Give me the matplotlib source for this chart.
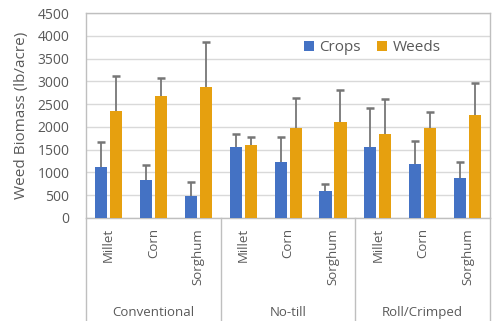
import numpy as np
import matplotlib.pyplot as plt

plt.rcParams["font.family"] = ["Open Sans", "DejaVu Sans"]

systems = ["Conventional", "No-till", "Roll/Crimped"]
crops_names = ["Millet", "Corn", "Sorghum"]

# mean biomass and upper error (lb/acre), 9 bars per series
crops_mean = [1120, 830, 480, 1560, 1230, 590, 1560, 1180, 880]
crops_err = [550, 330, 310, 280, 550, 150, 850, 510, 350]
weeds_mean = [2350, 2680, 2870, 1600, 1970, 2100, 1840, 1970, 2260]
weeds_err = [760, 390, 990, 180, 660, 710, 770, 360, 700]

blue = "#4472C4"
orange = "#E6A00F"
txt = "#595959"
grey_line = "#D9D9D9"

fig = plt.figure(figsize=(4.92, 3.21), dpi=100)
ax = fig.add_axes([0.175, 0.321, 0.821, 0.638])

x = np.arange(len(crops_mean))
w = 0.27
off = 0.167
ax.bar(x - off, crops_mean, w, color=blue, label="Crops", zorder=3)
ax.bar(x + off, weeds_mean, w, color=orange, label="Weeds", zorder=3)
# symmetric bars drawn behind the columns, so only the upper half shows
ax.errorbar(x - off, crops_mean, yerr=crops_err, fmt="none",
            ecolor="#767676", elinewidth=1.3, capsize=3.2, capthick=1.8, zorder=2)
ax.errorbar(x + off, weeds_mean, yerr=weeds_err, fmt="none",
            ecolor="#767676", elinewidth=1.3, capsize=3.2, capthick=1.8, zorder=2)

ax.set_xlim(-0.5, 8.5)
ax.set_ylim(0, 4500)
ax.set_yticks(np.arange(0, 4501, 500))
ax.yaxis.grid(True, color=grey_line, linewidth=1, zorder=0)
ax.tick_params(axis="y", length=0, labelsize=10, labelcolor=txt, pad=12)
ax.set_xticks([])
for s in ax.spines.values():
    s.set_color("#BFBFBF")
    s.set_linewidth(1)

ax.set_ylabel("Weed Biomass (lb/acre)", fontsize=11, color=txt, labelpad=6)

# category labels under the axis
tr = ax.get_xaxis_transform()
for i in range(9):
    ax.text(i, -0.05, crops_names[i % 3], transform=tr, rotation=90,
            ha="center", va="top", fontsize=9.5, color=txt)
for g, name in enumerate(systems):
    ax.text(g * 3 + 1, -0.46, name, transform=tr, ha="center", va="center",
            fontsize=9.5, color=txt)
for xv in [-0.5, 2.5, 5.5, 8.5]:
    ax.plot([xv, xv], [0, -0.52], transform=tr, color="#BFBFBF",
            linewidth=1, clip_on=False)

ax.legend(loc="center", bbox_to_anchor=(0.708, 0.83), ncol=2, frameon=False,
          fontsize=11, handlelength=0.65, handleheight=0.65, handletextpad=0.35,
          columnspacing=1.1, labelcolor=txt)

fig.savefig("out.png", dpi=100)
